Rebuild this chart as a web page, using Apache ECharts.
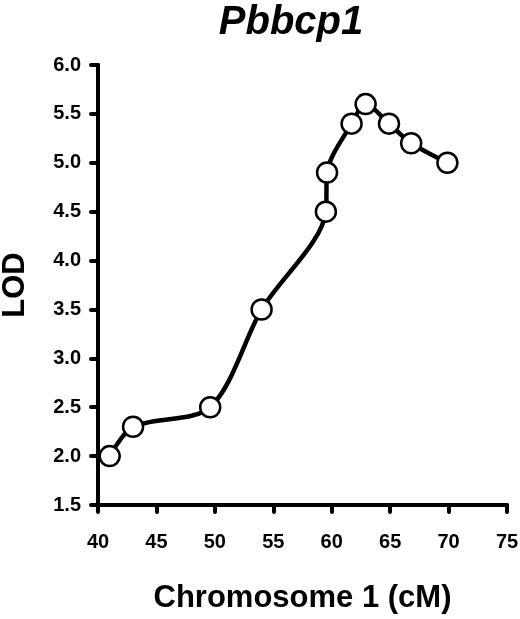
<!DOCTYPE html>
<html lang="en">
<head>
    <meta charset="UTF-8" />
    <title>Pbbcp1</title>
</head>
<body style="margin:0;background:#fff;">
<div id="main" style="width: 520px; height: 619px;"></div>
<script src="https://cdn.jsdelivr.net/npm/echarts@6/dist/echarts.min.js"></script>
<script type="text/javascript">
    // position on chromosome 1 (cM) and LOD score
    var positions = [41.0, 43.0, 49.6, 54.0, 59.5, 59.6, 61.7, 62.9, 64.9, 66.8, 69.9];
    var lodScores = [2.0, 2.3, 2.5, 3.5, 4.5, 4.9, 5.4, 5.6, 5.4, 5.2, 5.0];
    var xTicks = [40, 45, 50, 55, 60, 65, 70, 75];
    var yTicks = [1.5, 2.0, 2.5, 3.0, 3.5, 4.0, 4.5, 5.0, 5.5, 6.0];

    var font = 'Liberation Sans, Arial, sans-serif';
    var myChart = echarts.init(document.getElementById('main'));

    var points = positions.map(function (x, i) { return [x, lodScores[i]]; });

    var option = {
        animation: false,
        backgroundColor: '#fff',
        title: {
            text: 'Pbbcp1',
            left: 286,
            textAlign: 'center',
            top: -2,
            textStyle: { fontFamily: font, fontSize: 40, fontWeight: 'bold', fontStyle: 'italic', color: '#000' }
        },
        grid: { left: 98, right: 13, top: 65, bottom: 114, outerBoundsMode: 'none', containLabel: false },
        xAxis: {
            type: 'value',
            min: xTicks[0],
            max: xTicks[xTicks.length - 1],
            interval: 5,
            name: 'Chromosome 1 (cM)',
            nameLocation: 'middle',
            nameGap: 78,
            nameTextStyle: { fontFamily: font, fontSize: 31, fontWeight: 'bold', color: '#000' },
            axisLine: { lineStyle: { color: '#000', width: 4, cap: 'round' } },
            axisTick: { length: 7, lineStyle: { color: '#000', width: 4, cap: 'round' } },
            axisLabel: { margin: 27, fontFamily: font, fontSize: 20, fontWeight: 'bold', color: '#000' },
            splitLine: { show: false }
        },
        yAxis: {
            type: 'value',
            min: yTicks[0],
            max: yTicks[yTicks.length - 1],
            interval: 0.5,
            name: 'LOD',
            nameLocation: 'middle',
            nameGap: 67,
            nameTextStyle: { fontFamily: font, fontSize: 31, fontWeight: 'bold', color: '#000' },
            axisLine: { lineStyle: { color: '#000', width: 4, cap: 'round' } },
            axisTick: { length: 7, lineStyle: { color: '#000', width: 4, cap: 'round' } },
            axisLabel: {
                margin: 17, fontFamily: font, fontSize: 20, fontWeight: 'bold', color: '#000',
                formatter: function (v) { return v.toFixed(1); }
            },
            splitLine: { show: false }
        },
        series: [{
            type: 'line',
            data: points,
            smooth: 0.3,
            symbol: 'circle',
            symbolSize: 20,
            lineStyle: { color: '#000', width: 4.5 },
            itemStyle: { color: '#fff', borderColor: '#000', borderWidth: 2.5 }
        }]
    };

    myChart.setOption(option);
</script>
</body>
</html>
